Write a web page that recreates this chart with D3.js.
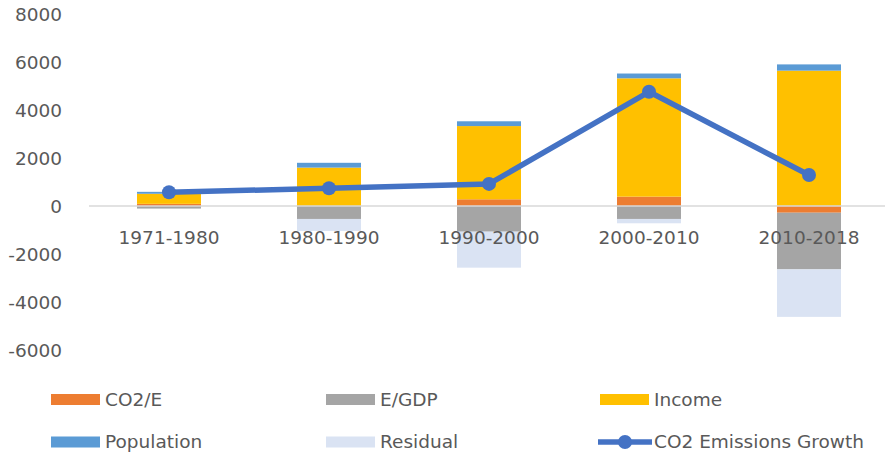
<!DOCTYPE html>
<html>
<head>
<meta charset="utf-8">
<script src="https://cdn.jsdelivr.net/npm/d3@7"></script>
<style>
  html, body { margin: 0; padding: 0; background: #fff; }
  svg { display: block; }
  text { font-family: "DejaVu Sans", sans-serif; fill: #595959; }
</style>
</head>
<body>
<svg id="chart" width="885" height="456"></svg>
<script>
// Decomposition of CO2 emissions growth by period
const categories = ["1971-1980", "1980-1990", "1990-2000", "2000-2010", "2010-2018"];
const co2PerEnergy = [90, 0, 280, 390, -280];
const energyPerGdp = [-110, -540, -1070, -540, -2360];
const income = [420, 1600, 3050, 4930, 5640];
const population = [80, 200, 200, 200, 260];
const residual = [-10, -500, -1500, -180, -1980];
const emissionsGrowth = [570, 740, 920, 4760, 1290];
const yTicks = [-6000, -4000, -2000, 0, 2000, 4000, 6000, 8000];

const seriesKeys = ["co2e", "egdp", "income", "pop", "residual"];
const seriesNames = { co2e: "CO2/E", egdp: "E/GDP", income: "Income", pop: "Population", residual: "Residual" };
const colors = { co2e: "#ED7D31", egdp: "#A5A5A5", income: "#FFC000", pop: "#5B9BD5", residual: "#DAE3F3" };
const lineColor = "#4472C4";

const rows = categories.map((c, i) => ({
  cat: c,
  co2e: co2PerEnergy[i],
  egdp: energyPerGdp[i],
  income: income[i],
  pop: population[i],
  residual: residual[i],
  growth: emissionsGrowth[i]
}));

const svg = d3.select("#chart");

const x = d3.scaleBand().domain(categories).range([89, 889]).paddingInner(0.6).paddingOuter(0.3);
const y = d3.scaleLinear().domain([-6000, 8000]).range([350, 14]);

// stacked bars, positives up and negatives down
const stacked = d3.stack().keys(seriesKeys).offset(d3.stackOffsetDiverging)(rows);

svg.append("g").selectAll("g")
  .data(stacked)
  .join("g")
  .attr("fill", s => colors[s.key])
  .selectAll("rect")
  .data(s => s)
  .join("rect")
  .attr("x", d => x(d.data.cat))
  .attr("width", x.bandwidth())
  .attr("y", d => y(Math.max(d[0], d[1])))
  .attr("height", d => Math.abs(y(d[0]) - y(d[1])));

// zero line
svg.append("line")
  .attr("x1", 89).attr("x2", 885)
  .attr("y1", y(0)).attr("y2", y(0))
  .attr("stroke", "#D9D9D9").attr("stroke-width", 1.5);

// value axis labels (plain hyphen for negatives)
const yAxis = d3.axisLeft(y).tickValues(yTicks).tickSize(0).tickPadding(0).tickFormat(d => String(d));
const yg = svg.append("g").attr("transform", "translate(62,0)").call(yAxis);
yg.select(".domain").remove();
yg.selectAll("text").attr("font-size", 18.5).attr("font-family", "DejaVu Sans, sans-serif").attr("fill", "#595959").attr("dy", "0.35em");

// category labels
svg.append("g").selectAll("text")
  .data(categories)
  .join("text")
  .attr("x", d => x(d) + x.bandwidth() / 2)
  .attr("y", 244)
  .attr("text-anchor", "middle")
  .attr("font-size", 18.5)
  .text(d => d);

// emissions growth line
const line = d3.line().x(d => x(d.cat) + x.bandwidth() / 2).y(d => y(d.growth));
svg.append("path")
  .datum(rows)
  .attr("d", line)
  .attr("fill", "none")
  .attr("stroke", lineColor)
  .attr("stroke-width", 5.5)
  .attr("stroke-linejoin", "round");

svg.append("g").selectAll("circle")
  .data(rows)
  .join("circle")
  .attr("cx", d => x(d.cat) + x.bandwidth() / 2)
  .attr("cy", d => y(d.growth))
  .attr("r", 7)
  .attr("fill", lineColor);

// legend
const legendItems = [
  { key: "co2e", col: 0, row: 0 },
  { key: "egdp", col: 1, row: 0 },
  { key: "income", col: 2, row: 0 },
  { key: "pop", col: 0, row: 1 },
  { key: "residual", col: 1, row: 1 },
  { key: "growth", col: 2, row: 1 }
];
const colX = [51, 326, 600];
const rowY = [399.5, 442];

const lg = svg.append("g");
legendItems.forEach(item => {
  const gx = colX[item.col];
  const gy = rowY[item.row];
  const g = lg.append("g").attr("transform", `translate(${gx},${gy})`);
  if (item.key === "growth") {
    g.append("line").attr("x1", -2).attr("x2", 52).attr("y1", 0).attr("y2", 0)
      .attr("stroke", lineColor).attr("stroke-width", 5.5);
    g.append("circle").attr("cx", 25).attr("cy", 0).attr("r", 7).attr("fill", lineColor);
  } else {
    g.append("rect").attr("x", 0).attr("y", -5.5).attr("width", 49).attr("height", 11)
      .attr("fill", colors[item.key]);
  }
  g.append("text")
    .attr("x", 54)
    .attr("y", 0)
    .attr("dy", "0.35em")
    .attr("font-size", 18.5)
    .text(item.key === "growth" ? "CO2 Emissions Growth" : seriesNames[item.key]);
});
</script>
</body>
</html>
